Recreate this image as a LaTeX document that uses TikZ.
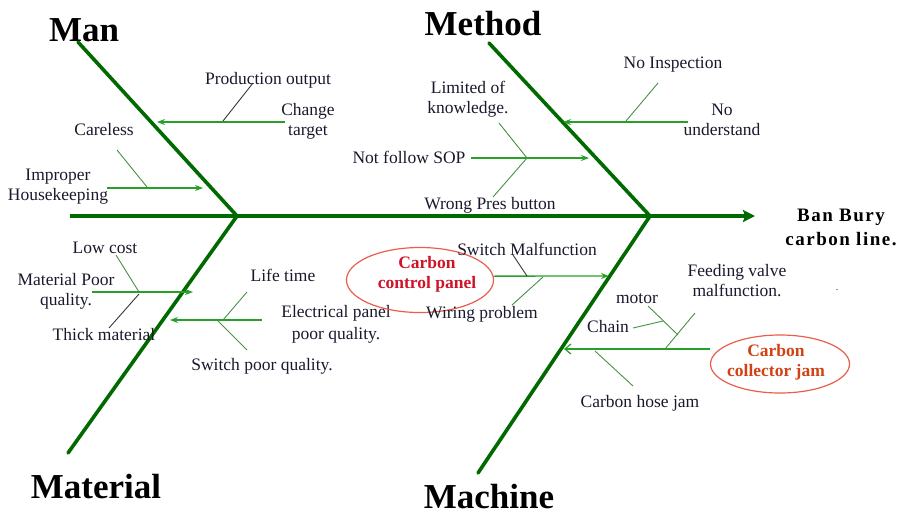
\documentclass[tikz,border=0pt]{standalone}
\usepackage{fontspec}
\setmainfont{Liberation Serif}
\usetikzlibrary{arrows.meta,shapes.geometric}
\definecolor{bonegreen}{RGB}{0,105,0}
\definecolor{brgreen}{RGB}{40,160,40}
\definecolor{twgreen}{RGB}{70,145,70}
\definecolor{greyline}{RGB}{55,55,55}
\definecolor{txt}{RGB}{25,25,45}
\definecolor{ellred}{RGB}{232,95,75}
\definecolor{cpred}{RGB}{205,20,40}
\definecolor{cjred}{RGB}{210,65,20}
\begin{document}
\begin{tikzpicture}[x=1pt,y=-1pt,
  bone/.style={line width=3.6pt, draw=bonegreen},
  spinearrow/.style={bone, -{Stealth[length=12pt,width=12pt,inset=2pt]}},
  branch/.style={line width=1.3pt, draw=brgreen, -{Stealth[length=8pt,width=6pt]}},
  openbranch/.style={line width=1.3pt, draw=brgreen, -{Straight Barb[length=6pt,width=10pt,line width=1.2pt]}},
  twig/.style={line width=0.9pt, draw=twgreen},
  greytwig/.style={line width=0.9pt, draw=greyline},
  lbl/.style={font=\fontsize{17.5}{20}\selectfont, text=txt, inner sep=0pt, anchor=base},
  lbltwo/.style={lbl, align=center},
  head/.style={font=\fontsize{35}{40}\selectfont\bfseries, text=black, inner sep=0pt, anchor=base, text depth=0pt},
  elli/.style={ellipse, draw=ellred, line width=1.2pt, inner sep=0pt},
  ellitext/.style={lbltwo, font=\fontsize{17.5}{20}\selectfont\bfseries}
]
\useasboundingbox (0,0) rectangle (899,515);

% ---- spine and bones
\coordinate (s0) at (70,216);
\coordinate (jA) at (237,216);
\coordinate (jB) at (650,216);
\coordinate (tip) at (755,216);
\coordinate (m0) at (78,42);
\coordinate (me0) at (489,43);
\coordinate (ma1) at (68,453);
\coordinate (mc1) at (478,473);
\draw[bone] (s0) -- (jB);
\draw[spinearrow] (jB) -- (tip);
\draw[bone, line cap=round] (m0) -- (jA);
\draw[bone, line cap=round] (me0) -- (jB);
\draw[bone, line cap=round] (jA) -- (ma1);
\draw[bone, line cap=round] (jB) -- (mc1);

% ---- heads
\node[head] (man) at (84,41) {Man};
\node[head] (method) at (483,35) {Method};
\node[head] (material) at (96,498) {Material};
\node[head] (machine) at (489,508) {Machine};
\node[lbltwo, text=black, font=\fontsize{19}{24}\selectfont\bfseries\addfontfeature{LetterSpace=8}] (effect) at (841,245) {Ban Bury\\carbon line.};

% ---- Man
\coordinate (a1s) at (285,122); \coordinate (a1e) at (157,122);
\draw[branch] (a1s) -- (a1e);
\coordinate (g1s) at (253,83); \coordinate (g1e) at (223,121);
\draw[greytwig] (g1s) -- (g1e);
\node[lbl] (prod) at (268,84) {Production output};
\node[lbltwo] (chg) at (308,135) {Change\\target};
\coordinate (c1s) at (117,150); \coordinate (c1e) at (147,187);
\draw[twig] (c1s) -- (c1e);
\coordinate (i1s) at (107,188); \coordinate (i1e) at (203,188);
\draw[branch] (i1s) -- (i1e);
\node[lbl] (care) at (104,135) {Careless};
\node[lbltwo] (imp) at (58,200) {Improper\\Housekeeping};

% ---- Method
\coordinate (b1s) at (688,122); \coordinate (b1e) at (563,122);
\draw[branch] (b1s) -- (b1e);
\coordinate (n1s) at (658,83); \coordinate (n1e) at (626,121);
\draw[twig] (n1s) -- (n1e);
\node[lbl] (noinsp) at (673,68) {No Inspection};
\node[lbltwo] (nound) at (722,135) {No\\understand};
\coordinate (sops) at (471,158); \coordinate (sope) at (589,158);
\draw[branch] (sops) -- (sope);
\coordinate (lk1) at (499,123); \coordinate (lk2) at (527,158); \coordinate (wp1) at (493,197);
\draw[twig] (lk1) -- (lk2) -- (wp1);
\node[lbltwo] (limk) at (468,113) {Limited of\\knowledge.};
\node[lbl] (sop) at (409,163) {Not follow SOP};
\node[lbl] (wrong) at (490,209) {Wrong Pres button};

% ---- Material
\coordinate (mp1) at (92,292); \coordinate (mp2) at (193,292);
\draw[branch] (mp1) -- (mp2);
\coordinate (lc1) at (116,255); \coordinate (lc2) at (139,292);
\draw[twig] (lc1) -- (lc2);
\coordinate (tm1) at (139,294); \coordinate (tm2) at (109,328);
\draw[greytwig] (tm1) -- (tm2);
\node[lbl] (lowc) at (105,253) {Low cost};
\node[lbltwo] (matp) at (66,305) {Material Poor\\quality.};
\node[lbl] (thick) at (104,340) {Thick material};
\coordinate (ep1) at (262,320); \coordinate (ep2) at (170,320);
\draw[branch] (ep1) -- (ep2);
\coordinate (lt1) at (247,292); \coordinate (lt2) at (223,320);
\draw[twig] (lt1) -- (lt2);
\coordinate (sw1) at (217,320); \coordinate (sw2) at (247,350);
\draw[twig] (sw1) -- (sw2);
\node[lbl] (life) at (283,281) {Life time};
\node[lbltwo, font=\fontsize{17.5}{22}\selectfont] (elec) at (336,339) {Electrical panel\\poor quality.};
\node[lbl] (swpq) at (262,370) {Switch poor quality.};

% ---- Machine
\node[elli, minimum width=147pt, minimum height=65pt] (cp) at (420,280) {};
\node[ellitext, text=cpred] (cptext) at (427,288) {Carbon\\control panel};
\coordinate (cpe) at (609,276);
\draw[branch] (cp.3) -- (cpe);
\coordinate (sm1) at (513,255); \coordinate (sm2) at (527,276);
\draw[greytwig] (sm1) -- (sm2);
\coordinate (wr1) at (543,277); \coordinate (wr2) at (512,305);
\draw[twig] (wr1) -- (wr2);
\node[lbl] (swm) at (527,255) {Switch Malfunction};
\node[lbl] (wiring) at (482,318) {Wiring problem};

\node[elli, minimum width=139pt, minimum height=58pt] (cj) at (780,364) {};
\node[ellitext, text=cjred] (cjtext) at (776,376) {Carbon\\collector jam};
\coordinate (cj1) at (710,349); \coordinate (cj2) at (564,349);
\draw[openbranch] (cj1) -- (cj2);
\coordinate (h1) at (595,351); \coordinate (h2) at (633,386);
\draw[twig] (h1) -- (h2);
\coordinate (f1) at (695,313); \coordinate (f2) at (665,349);
\draw[twig] (f1) -- (f2);
\coordinate (mo1) at (648,306); \coordinate (mo2) at (678,335);
\draw[twig] (mo1) -- (mo2);
\coordinate (ch1) at (633,328); \coordinate (ch2) at (663,321);
\draw[twig] (ch1) -- (ch2);
\node[lbl] (hose) at (640,407) {Carbon hose jam};
\node[lbl] (motor) at (637,303) {motor};
\node[lbl] (chain) at (608,332) {Chain};
\node[lbltwo] (feed) at (737,296) {Feeding valve\\malfunction.};
\node[lbl, font=\fontsize{10}{12}\selectfont] (dot) at (837,290) {.};
\end{tikzpicture}
\end{document}
